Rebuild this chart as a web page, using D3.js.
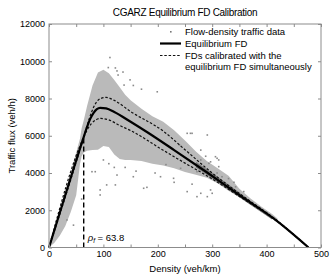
<!DOCTYPE html>
<html>
<head>
<meta charset="utf-8">
<script src="https://cdn.jsdelivr.net/npm/d3@7"></script>
<style>
	body { margin: 0; background: #fff; }
	text { font-family: Arial, "Liberation Sans", Helvetica, sans-serif; }
</style>
</head>
<body>
<div id="chart"></div>
<script>
// equilibrium FD (solid)
const eqDensity = [0, 63.8, 70, 76, 82, 88, 94, 105, 120, 150, 180, 230, 290, 350, 417, 477];
const eqFlux = [0, 5930, 6480, 6920, 7230, 7430, 7500, 7470, 7280, 6750, 6200, 5230, 4040, 2810, 1470, 0];

// FDs calibrated together with the equilibrium FD (dotted)
const upDensity = [0, 63.8, 70, 78, 86, 95, 105, 120, 150, 210, 250, 300, 350, 417, 477];
const upFlux = [0, 5930, 6550, 7250, 7750, 8000, 8060, 7900, 7300, 6250, 5250, 4000, 2900, 1500, 0];
const lowDensity = [0, 63.8, 70, 78, 86, 95, 110, 130, 150, 210, 250, 300, 350, 417, 477];
const lowFlux = [0, 5930, 6300, 6650, 6850, 6930, 6850, 6550, 6280, 5220, 4530, 3680, 2740, 1450, 0];

// dense part of the traffic data cloud, per density column
const cloudDensity = [0, 10, 20, 30, 40, 50, 57, 60, 64, 70, 80, 90, 100, 110, 120, 130, 140, 150, 170, 190, 210, 230, 250, 270, 290, 310, 330, 350, 370, 390, 410, 420];
const cloudLow = [0, 250, 650, 1150, 1900, 2800, 4500, 4900, 5100, 5200, 5230, 5250, 5450, 5400, 5000, 4750, 4700, 4700, 4650, 4500, 4400, 4250, 4050, 3900, 3750, 3450, 3050, 2700, 2300, 1900, 1550, 1380];
const cloudHigh = [0, 950, 1950, 2950, 4000, 5100, 5850, 6400, 6850, 7600, 8700, 9400, 9550, 9350, 9000, 8600, 8200, 7900, 7450, 7050, 6750, 6300, 5750, 5150, 4650, 4250, 3850, 3150, 2650, 2200, 1800, 1560];

// darker stripe of data hugging the congested branch
const darkDensity = [270, 300, 330, 360, 390, 410];
const darkLow = [4300, 3700, 3100, 2500, 1900, 1500];
const darkHigh = [4600, 4000, 3380, 2730, 2080, 1660];

// scattered data points [density, flux]
const sparsePoints = [[112,10200],[109,9660],[122,9640],[125,9480],[136,9420],[149,9000],[138,8720],[127,9260],
	[155,8700],[170,8500],[199,8360],[254,6130],[263,6130],[291,6040],[240,5500],[279,4700],[309,4790],[297,4600],
	[215,4450],[309,4000],[316,3620],[155,3800],[125,3890],[106,3360],[174,3180],[180,3230],[94,3090],[254,3000],
	[279,2910],[272,2730],[291,2730],[94,2820],[122,3360],[85,4070],[79,4070],[33,1480],[260,6130],[279,5230],
	[288,4900],[205,3800],[229,3715],[242,4250],[272,4070],[306,4875],[312,4340],[294,4520],[312,4700],[297,3090],
	[300,2910],[358,3000],[343,3260],[318,3800],[140,4300],[160,4100],[195,4000],[230,3500],[110,4500],[100,4700],
	[120,4300],[263,3400],[330,3700],[340,3500],[60,2600],[45,1200]];

const criticalDensity = 63.8;
const xTickValues = [0, 50, 100, 150, 200, 250, 300, 350, 400, 450, 500];
const yTickValues = [0, 2000, 4000, 6000, 8000, 10000, 12000];
const legendLabels = ["Flow-density traffic data", "Equilibrium FD", "FDs calibrated with the", "equilibrium FD simultaneously"];

const W = 332, H = 277,
	LEFT = 49, RIGHT = 321, TOP = 24, BOTTOM = 247.5,
	AXIS_COLOR = "#8c8c8c";

var svg = d3.select("#chart").append("svg")
	.attr("width", W)
	.attr("height", H);

var x = d3.scaleLinear().domain([0, 500]).range([LEFT, RIGHT]);
var y = d3.scaleLinear().domain([0, 12000]).range([BOTTOM, TOP]);

// data cloud
var cloudArea = d3.area()
	.x(function(d) { return x(d[0]); })
	.y0(function(d) { return y(d[1]); })
	.y1(function(d) { return y(d[2]); });
svg.append("path")
	.datum(cloudDensity.map((d, i) => [d, cloudLow[i], cloudHigh[i]]))
	.attr("d", cloudArea)
	.attr("fill", "#bababa");
svg.append("path")
	.datum(darkDensity.map((d, i) => [d, darkLow[i], darkHigh[i]]))
	.attr("d", cloudArea)
	.attr("fill", "#7a7a7a");

svg.selectAll(".pt")
	.data(sparsePoints)
	.enter().append("rect")
	.attr("class", "pt")
	.attr("x", function(d) { return x(d[0]) - 0.8; })
	.attr("y", function(d) { return y(d[1]) - 0.8; })
	.attr("width", 1.6)
	.attr("height", 1.6)
	.attr("fill", "#8a8a8a");

// curves
var line = d3.line()
	.x(function(d) { return x(d[0]); })
	.y(function(d) { return y(d[1]); })
	.curve(d3.curveMonotoneX);

[[upDensity, upFlux], [lowDensity, lowFlux]].forEach(function(c) {
	svg.append("path")
		.datum(c[0].map((d, i) => [d, c[1][i]]))
		.attr("d", line)
		.attr("fill", "none")
		.attr("stroke", "#111")
		.attr("stroke-width", 1.2)
		.attr("stroke-dasharray", "2.5,1.8");
});
svg.append("path")
	.datum(eqDensity.map((d, i) => [d, eqFlux[i]]))
	.attr("d", line)
	.attr("fill", "none")
	.attr("stroke", "#000")
	.attr("stroke-width", 2.2);

// critical density marker
svg.append("line")
	.attr("x1", x(criticalDensity)).attr("x2", x(criticalDensity))
	.attr("y1", y(0)).attr("y2", y(eqFlux[1]))
	.attr("stroke", "#000")
	.attr("stroke-width", 1.4)
	.attr("stroke-dasharray", "5,3");
var lab = svg.append("text")
	.attr("x", x(criticalDensity) + 4)
	.attr("y", 241)
	.attr("font-size", 9.5);
lab.append("tspan").attr("font-style", "italic").text("ρ");
lab.append("tspan").attr("font-style", "italic").attr("font-size", 6.5).attr("dy", 2).text("f");
lab.append("tspan").attr("dy", -2).text(" = " + criticalDensity);

// frame and axes (matlab style, ticks inside)
svg.append("rect")
	.attr("x", LEFT).attr("y", TOP)
	.attr("width", RIGHT - LEFT).attr("height", BOTTOM - TOP)
	.attr("fill", "none")
	.attr("stroke", AXIS_COLOR)
	.attr("stroke-width", 1);

function styleAxis(g) {
	g.select(".domain").remove();
	g.selectAll(".tick line").attr("stroke", AXIS_COLOR);
	g.selectAll(".tick text").attr("fill", "#000").style("font-size", "9px");
}

svg.append("g")
	.attr("transform", "translate(0," + BOTTOM + ")")
	.call(d3.axisBottom(x).tickValues(xTickValues).tickSize(-3).tickPadding(3)
		.tickFormat(function(d) { return d % 100 == 0 ? d : ""; }))
	.call(styleAxis);
svg.append("g")
	.attr("transform", "translate(0," + TOP + ")")
	.call(d3.axisTop(x).tickValues(xTickValues).tickSize(-3).tickFormat(""))
	.call(styleAxis);
svg.append("g")
	.attr("transform", "translate(" + LEFT + ",0)")
	.call(d3.axisLeft(y).tickValues(yTickValues).tickSize(-3).tickPadding(4).tickFormat(d3.format("d")))
	.call(styleAxis);
svg.append("g")
	.attr("transform", "translate(" + RIGHT + ",0)")
	.call(d3.axisRight(y).tickValues(yTickValues).tickSize(-3).tickFormat(""))
	.call(styleAxis);

// titles
svg.append("text")
	.attr("x", (LEFT + RIGHT) / 2).attr("y", 16)
	.attr("text-anchor", "middle")
	.attr("font-size", 10)
	.attr("letter-spacing", -0.3)
	.text("CGARZ Equilibrium FD Calibration");
svg.append("text")
	.attr("x", (LEFT + RIGHT) / 2).attr("y", 272)
	.attr("text-anchor", "middle")
	.attr("font-size", 9.5)
	.text("Density (veh/km)");
svg.append("text")
	.attr("transform", "translate(15," + (TOP + BOTTOM) / 2 + ") rotate(-90)")
	.attr("text-anchor", "middle")
	.attr("font-size", 9.5)
	.text("Traffic flux (veh/h)");

// legend
var LX = 160, LT = 185, rows = [35, 47, 59, 70];
svg.append("rect")
	.attr("x", LX + 10).attr("y", rows[0] - 4).attr("width", 1.6).attr("height", 1.6)
	.attr("fill", "#777");
svg.append("line")
	.attr("x1", LX).attr("x2", LX + 21).attr("y1", rows[1] - 3.5).attr("y2", rows[1] - 3.5)
	.attr("stroke", "#000").attr("stroke-width", 2.2);
svg.append("line")
	.attr("x1", LX).attr("x2", LX + 21).attr("y1", rows[2] - 3.5).attr("y2", rows[2] - 3.5)
	.attr("stroke", "#111").attr("stroke-width", 1.2).attr("stroke-dasharray", "2.5,1.8");
svg.selectAll(".legend")
	.data(legendLabels)
	.enter().append("text")
	.attr("class", "legend")
	.attr("x", LT)
	.attr("y", function(d, i) { return rows[i]; })
	.attr("font-size", 9.5)
	.text(function(d) { return d; });
</script>
</body>
</html>
